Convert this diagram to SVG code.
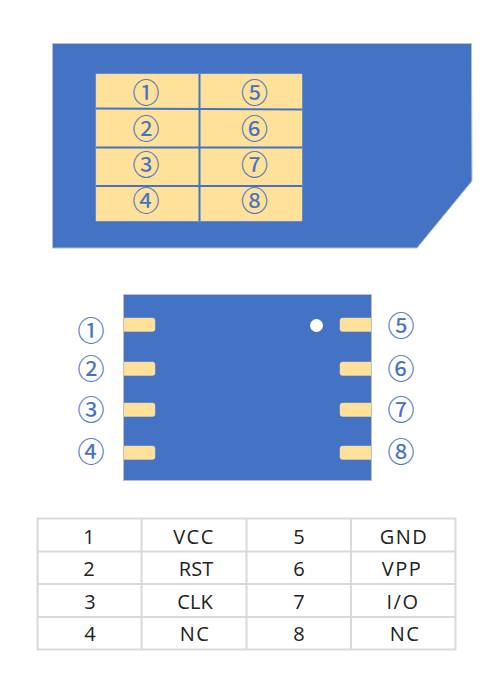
<svg xmlns="http://www.w3.org/2000/svg" width="503" height="687" viewBox="0 0 503 687">
<style>
.body{fill:#4472c4;stroke:#bfbfbf;stroke-width:1}
.pad{fill:#ffe199;stroke:#e6d6a8;stroke-width:.5}
.n{font-family:"Noto Sans CJK SC","Noto Sans",sans-serif;font-size:27px;fill:#4472c4;stroke:#4472c4;stroke-width:.15;text-anchor:middle}
.t{font-family:"Open Sans","Noto Sans",sans-serif;font-size:20px;fill:#222;text-anchor:middle}
.w{letter-spacing:1.500px}
.g{stroke:#d9d9d9;stroke-width:2;fill:none}
.d{stroke:#4472c4;stroke-width:2;fill:none}
</style>
<g id="sim-card">
<path class="body" d="M52.5 43.5H471.5L472 181L417 248H52.5Z"/>
<rect class="pad" x="96" y="74" width="206" height="147"/>
<path class="d" d="M199.5 74V221M96 108.500L302 109.500M96 147.500H302M96 186H302"/>
<text class="n" x="146" y="103">①</text><text class="n" x="254.500" y="103">⑤</text>
<text class="n" x="146" y="139">②</text><text class="n" x="254.500" y="139">⑥</text>
<text class="n" x="146" y="175">③</text><text class="n" x="254.500" y="175">⑦</text>
<text class="n" x="146" y="211">④</text><text class="n" x="254.500" y="211">⑧</text>
</g>
<g id="chip">
<rect class="body" x="123.500" y="294.500" width="248" height="186"/>
<path class="pad" d="M124 318H152.500a2.500 2.500 0 0 1 2.500 2.500V329a2.500 2.500 0 0 1-2.500 2.500H124Z"/>
<path class="pad" d="M124 362H152.500a2.500 2.500 0 0 1 2.500 2.500V373a2.500 2.500 0 0 1-2.500 2.500H124Z"/>
<path class="pad" d="M124 403H152.500a2.500 2.500 0 0 1 2.500 2.500V414a2.500 2.500 0 0 1-2.500 2.500H124Z"/>
<path class="pad" d="M124 446H152.500a2.500 2.500 0 0 1 2.500 2.500V457a2.500 2.500 0 0 1-2.500 2.500H124Z"/>
<path class="pad" d="M371 318H342.500a2.500 2.500 0 0 0-2.500 2.500V329a2.500 2.500 0 0 0 2.500 2.500H371Z"/>
<path class="pad" d="M371 362H342.500a2.500 2.500 0 0 0-2.500 2.500V373a2.500 2.500 0 0 0 2.500 2.500H371Z"/>
<path class="pad" d="M371 403H342.500a2.500 2.500 0 0 0-2.500 2.500V414a2.500 2.500 0 0 0 2.500 2.500H371Z"/>
<path class="pad" d="M371 446H342.500a2.500 2.500 0 0 0-2.500 2.500V457a2.500 2.500 0 0 0 2.500 2.500H371Z"/>
<circle cx="316.500" cy="325.500" r="6.500" fill="#fff"/>
<text class="n" x="91" y="341">①</text><text class="n" x="91" y="379">②</text><text class="n" x="91" y="420">③</text><text class="n" x="91" y="462">④</text>
<text class="n" x="401" y="336">⑤</text><text class="n" x="401" y="379">⑥</text><text class="n" x="401" y="420">⑦</text><text class="n" x="401" y="462">⑧</text>
</g>
<g id="pin-table">
<rect class="g" x="37.500" y="518.500" width="418" height="131"/>
<path class="g" d="M141.500 518.500V649.500M246.500 518.500V649.500M351 518.500V649.500M37.500 551.500H455.500M37.500 584H455.500M37.500 617H455.500"/>
<text class="t" x="89" y="543.500">1</text><text class="t w" x="194" y="543.500">VCC</text><text class="t" x="299" y="543.500">5</text><text class="t w" x="404" y="543.500">GND</text>
<text class="t" x="89" y="576">2</text><text class="t" x="196" y="576">RST</text><text class="t" x="299" y="576">6</text><text class="t w" x="402" y="576">VPP</text>
<text class="t" x="90" y="608.500">3</text><text class="t" x="195" y="608.500">CLK</text><text class="t" x="299" y="608.500">7</text><text class="t w" x="403" y="608.500">I/O</text>
<text class="t" x="90" y="641">4</text><text class="t w" x="195" y="641">NC</text><text class="t" x="299" y="641">8</text><text class="t w" x="405" y="641">NC</text>
</g>
</svg>
